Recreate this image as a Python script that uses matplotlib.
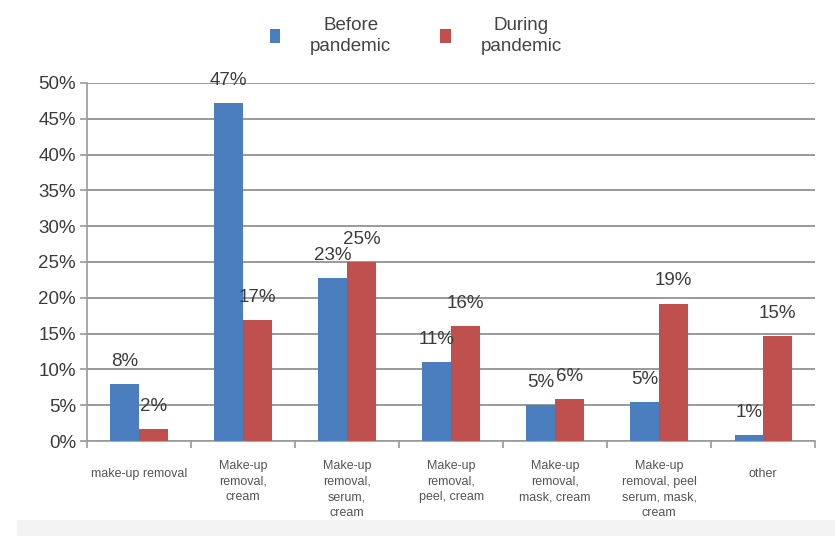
import numpy as np
import matplotlib
matplotlib.use("Agg")
import matplotlib.pyplot as plt
from matplotlib.patches import Patch, Rectangle
from matplotlib.ticker import FixedLocator, PercentFormatter
import matplotlib.transforms as mtransforms

plt.rcParams['font.family'] = ['Liberation Sans', 'DejaVu Sans']

# data (percent)
categories = [
    "make-up removal",
    "Make-up\nremoval,\ncream",
    "Make-up\nremoval,\nserum,\ncream",
    "Make-up\nremoval,\npeel, cream",
    "Make-up\nremoval,\nmask, cream",
    "Make-up\nremoval, peel\nserum, mask,\ncream",
    "other",
]
before = [8.0, 47.2, 22.7, 11.0, 5.0, 5.4, 0.8]
during = [1.7, 16.9, 25.0, 16.0, 5.9, 19.2, 14.6]
series_names = ["Before\npandemic", "During\npandemic"]

BLUE = "#4a7ebf"
RED = "#c0504d"
GRID = "#9a9a9a"
TXT = "#3c3c3c"

fig = plt.figure(figsize=(8.35, 5.36), dpi=100)
ax = fig.add_axes([0.1042, 0.1772, 0.872, 0.668])

# light grey strip at the very bottom of the picture
fig.patches.append(Rectangle((0.02, 0), 0.98, 16 / 536, transform=fig.transFigure,
                             facecolor="#f3f3f3", edgecolor="none", zorder=-1))

x = np.arange(len(categories))
w = 0.275
b1 = ax.bar(x - w / 2, before, w, color=BLUE, zorder=3)
b2 = ax.bar(x + w / 2, during, w, color=RED, zorder=3)

for bars, vals in ((b1, before), (b2, during)):
    for rect, v in zip(bars, vals):
        ax.annotate("%d%%" % round(v), (rect.get_x() + rect.get_width() / 2, v),
                    xytext=(0, 13), textcoords="offset points", ha="center",
                    va="baseline", fontsize=13.5, color=TXT, zorder=4)

ax.set_xlim(-0.5, len(categories) - 0.5)
ax.set_ylim(0, 50)
ax.set_yticks(np.arange(0, 51, 5))
ax.yaxis.set_major_formatter(PercentFormatter(decimals=0))
ax.yaxis.grid(True, color=GRID, linewidth=1.4, zorder=0)
ax.set_axisbelow(True)

# category labels at group centres, tick marks at group borders
ax.set_xticks(x)
ax.set_xticklabels(categories, fontsize=9, color="#555555", linespacing=1.38, va="top")
ax.xaxis.set_minor_locator(FixedLocator(np.arange(-0.5, len(categories), 1)))
ax.tick_params(axis="x", which="major", length=0, pad=14)
ax.tick_params(axis="x", which="minor", length=5, color=GRID, width=1.2)
ax.tick_params(axis="y", length=5, color=GRID, width=1.2, labelsize=13.5,
               labelcolor=TXT, pad=3)
for lab in ax.get_xticklabels():
    if "\n" not in lab.get_text():
        lab.set_transform(lab.get_transform() +
                          mtransforms.ScaledTranslation(0, -8 / 100, fig.dpi_scale_trans))

for s in ("top", "right"):
    ax.spines[s].set_visible(False)
for s in ("left", "bottom"):
    ax.spines[s].set_color(GRID)
    ax.spines[s].set_linewidth(1.2)

handles = [Patch(facecolor=BLUE), Patch(facecolor=RED)]
leg = fig.legend(handles, series_names, ncol=2, loc="center",
                 bbox_to_anchor=(0.498, 0.933), frameon=False, fontsize=13.5,
                 handlelength=0.55, handleheight=0.75, handletextpad=1.6,
                 columnspacing=2.6)
for t in leg.get_texts():
    t.set_multialignment("center")
    t.set_linespacing(1.3)
    t.set_color("#444444")

fig.savefig("out.png", dpi=100)
